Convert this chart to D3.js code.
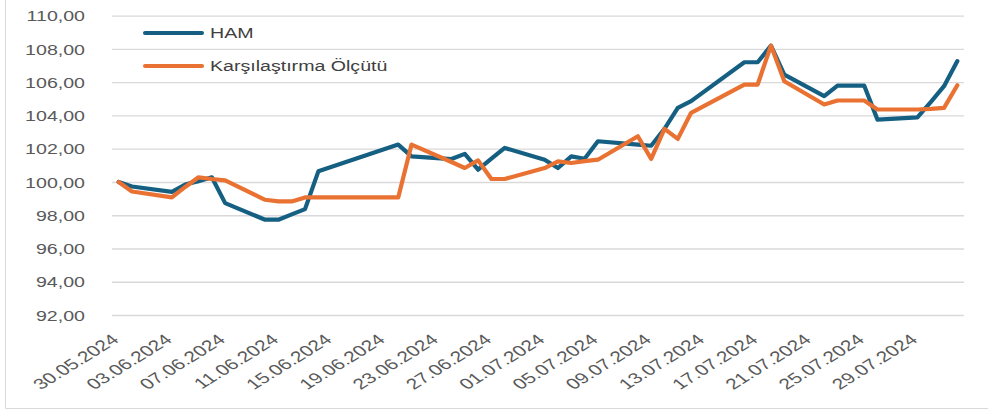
<!DOCTYPE html>
<html>
<head>
<meta charset="utf-8">
<script src="https://cdn.jsdelivr.net/npm/d3@7"></script>
<style>
  body { margin: 0; background: #fff; }
  svg text { font-family: "Liberation Sans", Arial, sans-serif; }
</style>
</head>
<body>
<svg id="chart" width="988" height="412"></svg>
<script>
// data
const dates = [
  '30.05.2024', '31.05.2024', '03.06.2024', '04.06.2024', '05.06.2024', '06.06.2024', '07.06.2024',
  '10.06.2024', '11.06.2024', '12.06.2024', '13.06.2024', '14.06.2024', '20.06.2024', '21.06.2024',
  '24.06.2024', '25.06.2024', '26.06.2024', '27.06.2024', '28.06.2024', '01.07.2024', '02.07.2024',
  '03.07.2024', '04.07.2024', '05.07.2024', '08.07.2024', '09.07.2024', '10.07.2024', '11.07.2024',
  '12.07.2024', '16.07.2024', '17.07.2024', '18.07.2024', '19.07.2024', '22.07.2024', '23.07.2024',
  '24.07.2024', '25.07.2024', '26.07.2024', '29.07.2024', '30.07.2024', '31.07.2024', '01.08.2024'
];
const ham = [
  100.00, 99.73, 99.40, 99.85, 100.05, 100.28, 98.73,
  97.73, 97.73, 98.05, 98.37, 100.64, 102.25, 101.54,
  101.38, 101.69, 100.74, 101.40, 102.05, 101.34, 100.84,
  101.54, 101.40, 102.45, 102.25, 102.18, 103.20, 104.46,
  104.86, 107.20, 107.20, 108.20, 106.46, 105.16, 105.80,
  105.80, 105.80, 103.75, 103.89, 104.80, 105.76, 107.27
];
const olcut = [
  100.00, 99.43, 99.07, 99.70, 100.28, 100.18, 100.10,
  98.93, 98.83, 98.83, 99.07, 99.07, 99.07, 102.25,
  101.20, 100.84, 101.30, 100.18, 100.18, 100.84, 101.24,
  101.14, 101.25, 101.34, 102.75, 101.39, 103.19, 102.59,
  104.16, 105.86, 105.86, 108.20, 106.06, 104.66, 104.90,
  104.90, 104.90, 104.36, 104.36, 104.40, 104.46, 105.82
];
const tickDates = [
  '30.05.2024', '03.06.2024', '07.06.2024', '11.06.2024', '15.06.2024', '19.06.2024', '23.06.2024',
  '27.06.2024', '01.07.2024', '05.07.2024', '09.07.2024', '13.07.2024', '17.07.2024', '21.07.2024',
  '25.07.2024', '29.07.2024'
];
const yTicks = [92, 94, 96, 98, 100, 102, 104, 106, 108, 110];
const seriesNames = ['HAM', 'Karşılaştırma Ölçütü'];
const colors = ['#156082', '#E97132'];

const parse = d3.timeParse('%d.%m.%Y');
const fmtY = d => d3.format('.2f')(d).replace('.', ',');

const svg = d3.select('#chart');
const DIM = { left: 112, right: 964, top: 15.7, bottom: 315 };
// the original picture is a bit stretched sideways, so is the text
const stretch = 1.4;

// border of the chart area
svg.append('path')
  .attr('d', 'M5.5,0 V408.5 H988')
  .attr('fill', 'none')
  .attr('stroke', '#d9d9d9')
  .attr('stroke-width', 1);

const x0 = d3.timeHour.offset(parse('30.05.2024'), -12);
const x1 = d3.timeHour.offset(parse('01.08.2024'), 12);
const xScale = d3.scaleTime().domain([x0, x1]).range([DIM.left, DIM.right]);
const yScale = d3.scaleLinear().domain([92, 110]).range([DIM.bottom, DIM.top]);

// grid + y labels
const yAxis = svg.append('g')
  .attr('transform', `translate(${DIM.left},0)`)
  .call(d3.axisLeft(yScale).tickValues(yTicks).tickFormat(fmtY)
    .tickSize(-(DIM.right - DIM.left)));
yAxis.select('.domain').remove();
yAxis.selectAll('.tick line').attr('stroke', '#d9d9d9').attr('stroke-width', 1.3);
yAxis.selectAll('.tick text')
  .attr('fill', '#595959')
  .style('font-size', '14px')
  .attr('x', 0)
  .attr('dy', '0.36em')
  .attr('transform', `translate(-27,0) scale(${stretch},1)`);

// x labels
const xAxis = svg.append('g')
  .attr('transform', `translate(0,${DIM.bottom})`)
  .call(d3.axisBottom(xScale).tickValues(tickDates.map(parse))
    .tickFormat(d3.timeFormat('%d.%m.%Y')).tickSize(0));
xAxis.select('.domain').remove();
xAxis.selectAll('.tick text')
  .attr('fill', '#595959')
  .style('font-size', '15px')
  .attr('text-anchor', 'end')
  .attr('dy', null)
  .attr('y', 0)
  .attr('transform', `translate(1,26) scale(${stretch},1) rotate(-41)`);

// lines
const line = d3.line()
  .x((d, i) => xScale(parse(dates[i])))
  .y(d => yScale(d));

const lines = svg.append('g');
[ham, olcut].forEach((values, i) => {
  lines.append('path')
    .datum(values)
    .attr('fill', 'none')
    .attr('stroke', colors[i])
    .attr('stroke-width', 4.2)
    .attr('stroke-linejoin', 'round')
    .attr('stroke-linecap', 'round')
    .attr('d', line);
});

// legend
const legend = svg.append('g');
seriesNames.forEach((name, i) => {
  const ly = 33 + i * 33;
  legend.append('line')
    .attr('x1', 145).attr('x2', 202)
    .attr('y1', ly).attr('y2', ly)
    .attr('stroke', colors[i])
    .attr('stroke-width', 4)
    .attr('stroke-linecap', 'round');
  legend.append('text')
    .attr('transform', `translate(210,${ly + 5}) scale(${stretch},1)`)
    .attr('fill', '#404040')
    .style('font-size', '14px')
    .text(name);
});
</script>
</body>
</html>
